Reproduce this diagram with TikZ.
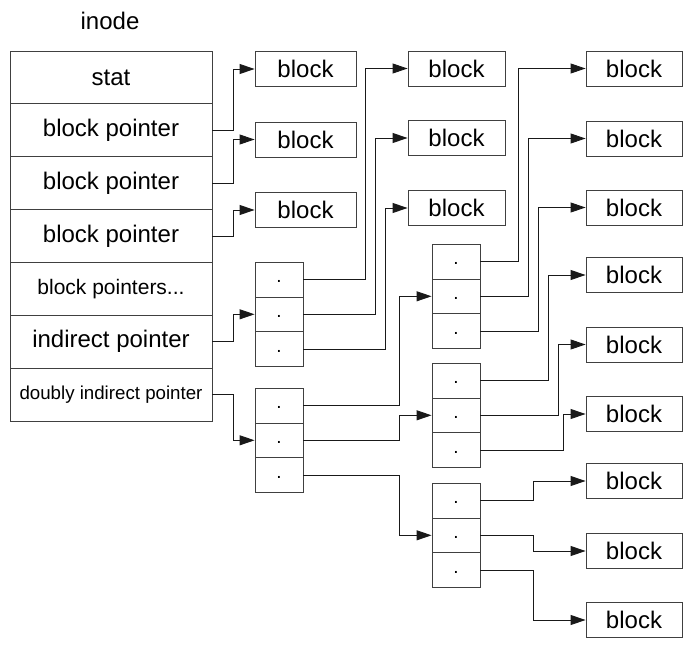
\documentclass[tikz,border=0pt]{standalone}
\usepackage{fontspec}
\setmainfont{Liberation Sans}
\usetikzlibrary{arrows.meta}
\begin{document}
\begin{tikzpicture}[x=1pt,y=-1pt,
  row/.style={draw=black!75,line width=0.9pt,minimum width=202pt,minimum height=52.86pt,inner sep=0pt,font=\fontsize{24}{26}\selectfont},
  blk/.style={draw=black!75,line width=0.9pt,minimum height=35pt,inner sep=0pt,font=\fontsize{24}{26}\selectfont},
  cell/.style={draw=black!75,line width=0.9pt,minimum width=48pt,minimum height=34.67pt,inner sep=0pt,text height=1.5ex,text depth=0.25ex,font=\fontsize{19}{20}\selectfont},
  arr/.style={draw=black!90,line width=0.9pt,-{Triangle[length=15pt,width=10pt]}}
]
\useasboundingbox (0,0) rectangle (700,650);
\node[font=\fontsize{24}{26}\selectfont] (title) at (110,21) {inode};
% inode rows
\node[row] (r1) at (111,77.43) {stat};
\node[row] (r2) at (111,130.29) {block pointer};
\node[row] (r3) at (111,183.14) {block pointer};
\node[row] (r4) at (111,236) {block pointer};
\node[row,font=\fontsize{21}{24}\selectfont] (r5) at (111,288.86) {block pointers...};
\node[row] (r6) at (111,341.71) {indirect pointer};
\node[row,font=\fontsize{18.7}{22}\selectfont] (r7) at (111,394.57) {doubly indirect pointer};
% column 1 blocks
\node[blk,minimum width=101pt] (a1) at (305.5,69) {block};
\node[blk,minimum width=101pt] (a2) at (305.5,139.5) {block};
\node[blk,minimum width=101pt] (a3) at (305.5,210) {block};
% indirect pointer box
\node[cell] (p1) at (279,279.63) {.};
\node[cell] (p2) at (279,314.3) {.};
\node[cell] (p3) at (279,348.97) {.};
% doubly indirect box
\node[cell] (d1) at (279,405.63) {.};
\node[cell] (d2) at (279,440.3) {.};
\node[cell] (d3) at (279,474.97) {.};
% column 2 blocks
\node[blk,minimum width=97pt] (b1) at (456.5,68.5) {block};
\node[blk,minimum width=97pt] (b2) at (456.5,138) {block};
\node[blk,minimum width=97pt] (b3) at (456.5,208) {block};
% second-level pointer boxes
\node[cell] (e1) at (456,261.63) {.};
\node[cell] (e2) at (456,296.3) {.};
\node[cell] (e3) at (456,330.97) {.};
\node[cell] (f1) at (456,380.63) {.};
\node[cell] (f2) at (456,415.3) {.};
\node[cell] (f3) at (456,449.97) {.};
\node[cell] (g1) at (456,500.63) {.};
\node[cell] (g2) at (456,535.3) {.};
\node[cell] (g3) at (456,569.97) {.};
% column 3 blocks
\node[blk,minimum width=96pt] (c1) at (634,68.5) {block};
\node[blk,minimum width=96pt] (c2) at (634,138.5) {block};
\node[blk,minimum width=96pt] (c3) at (634,207.5) {block};
\node[blk,minimum width=96pt] (c4) at (634,275) {block};
\node[blk,minimum width=96pt] (c5) at (634,344.5) {block};
\node[blk,minimum width=96pt] (c6) at (634,414) {block};
\node[blk,minimum width=96pt] (c7) at (634,481) {block};
\node[blk,minimum width=96pt] (c8) at (634,551) {block};
\node[blk,minimum width=96pt] (c9) at (634,620) {block};
% connectors from inode
\draw[arr] (r2.east) -- ++(21,0) |- (a1.west);
\draw[arr] (r3.east) -- ++(21,0) |- (a2.west);
\draw[arr] (r4.east) -- ++(21,0) |- (a3.west);
\draw[arr] (r6.east) -- ++(21,0) |- (p2.west);
\draw[arr] (r7.east) -- ++(21,0) |- (d2.west);
% indirect box to column 2
\draw[arr] (p1.east) -- ++(62,0) |- (b1.west);
\draw[arr] (p2.east) -- ++(72,0) |- (b2.west);
\draw[arr] (p3.east) -- ++(82,0) |- (b3.west);
% doubly indirect to second level
\draw[arr] (d1.east) -- ++(96,0) |- (e2.west);
\draw[arr] (d2.east) -- ++(96,0) |- (f2.west);
\draw[arr] (d3.east) -- ++(96,0) |- (g2.west);
% second level to column 3
\draw[arr] (e1.east) -- ++(38,0) |- (c1.west);
\draw[arr] (e2.east) -- ++(48,0) |- (c2.west);
\draw[arr] (e3.east) -- ++(58,0) |- (c3.west);
\draw[arr] (f1.east) -- ++(68,0) |- (c4.west);
\draw[arr] (f2.east) -- ++(78,0) |- (c5.west);
\draw[arr] (f3.east) -- ++(83,0) |- (c6.west);
\draw[arr] (g1.east) -- ++(53,0) |- (c7.west);
\draw[arr] (g2.east) -- ++(53,0) |- (c8.west);
\draw[arr] (g3.east) -- ++(53,0) |- (c9.west);
\end{tikzpicture}
\end{document}
